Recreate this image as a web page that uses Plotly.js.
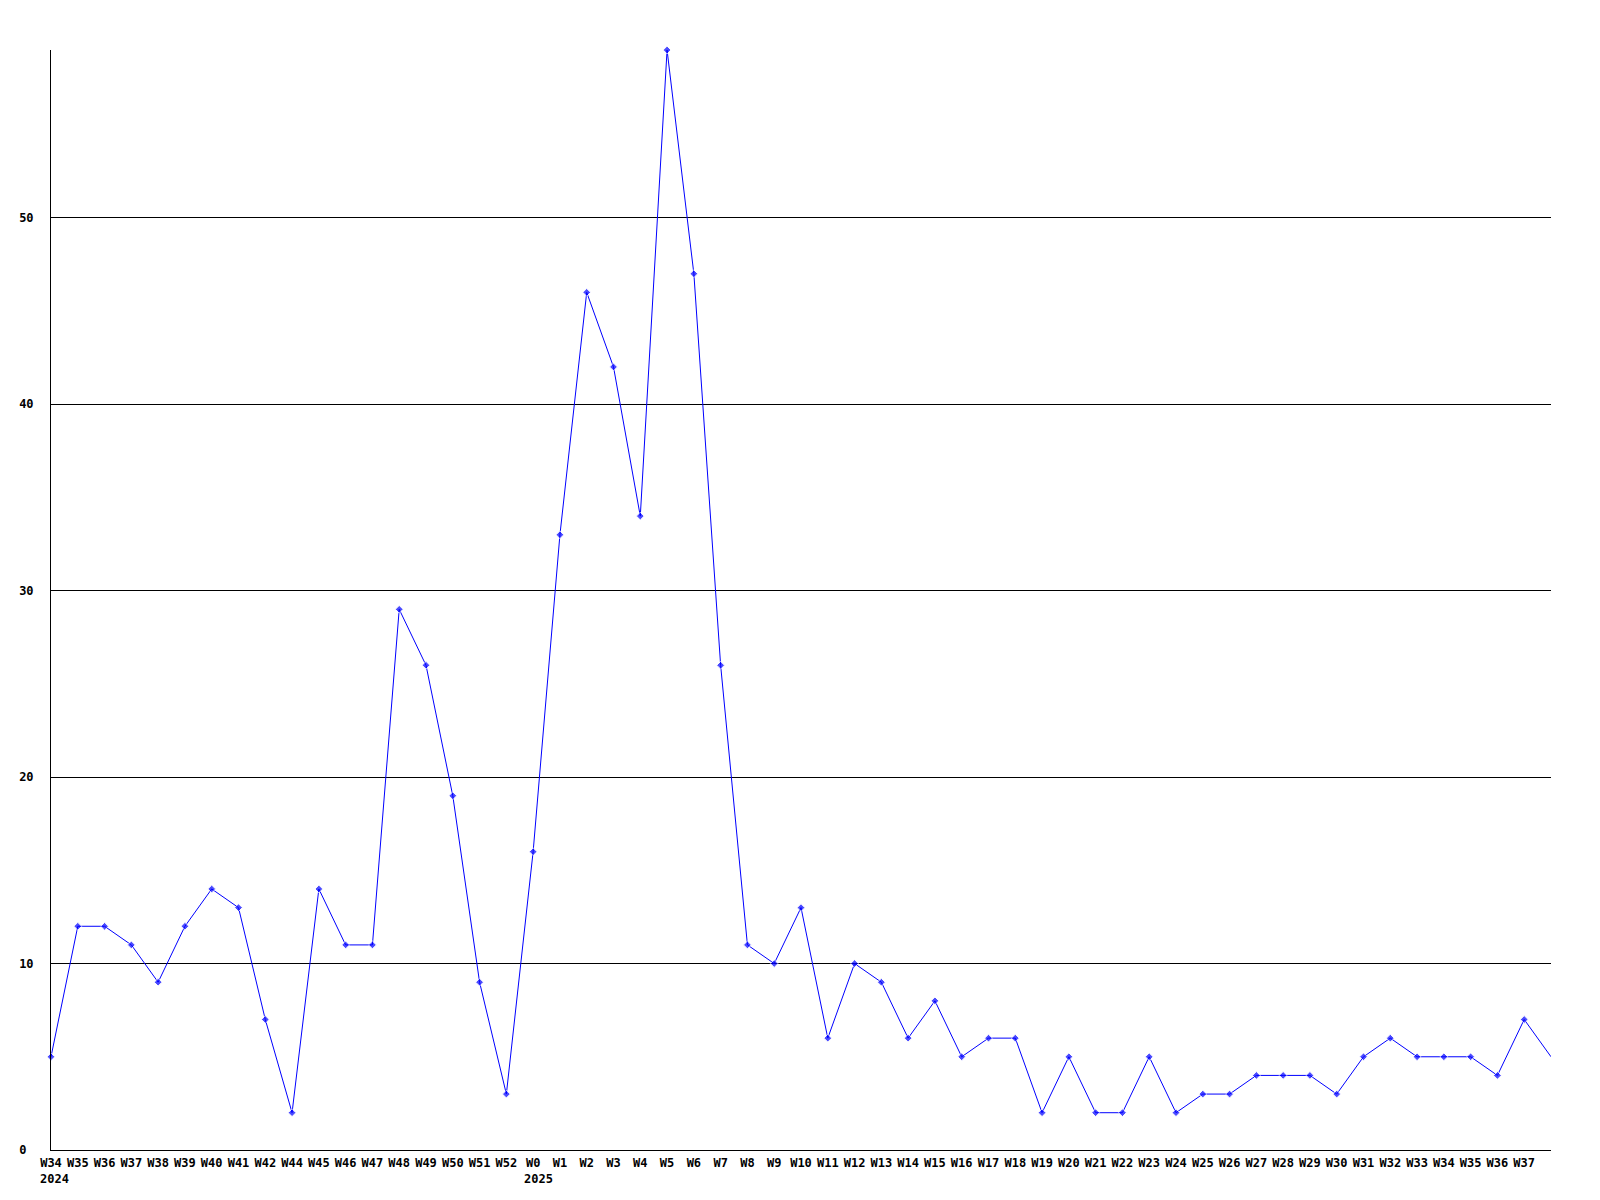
<!DOCTYPE html>
<html>
<head>
<meta charset="utf-8">
<script src="https://cdn.plot.ly/plotly-3.0.1.min.js"></script>
<style>body{margin:0;background:#fff;}#chart{width:1600px;height:1200px;}</style>
</head>
<body>
<div id="chart"></div>
<script>
const weeks = ["W34","W35","W36","W37","W38","W39","W40","W41","W42","W44","W45","W46","W47","W48","W49","W50","W51","W52",
  "W0","W1","W2","W3","W4","W5","W6","W7","W8","W9","W10","W11","W12","W13","W14","W15","W16","W17","W18","W19","W20",
  "W21","W22","W23","W24","W25","W26","W27","W28","W29","W30","W31","W32","W33","W34","W35","W36","W37",""];
const counts = [5,12,12,11,9,12,14,13,7,2,14,11,11,29,26,19,9,3,
  16,33,46,42,34,59,47,26,11,10,13,6,10,9,6,8,5,6,6,2,5,
  2,2,5,2,3,3,4,4,4,3,5,6,5,5,5,4,7,5];
const years = [{label:"2024", at:0}, {label:"2025", at:18}];
const yTicks = [0,10,20,30,40,50];

const xIdx = weeks.map((w,i)=>i);
const markerSizes = weeks.map(w => w === "" ? 0 : 6);
const font = {family:"DejaVu Sans Mono, Liberation Mono, monospace", size:12, color:"#000"};

const trace = {
  x: xIdx, y: counts, type:"scatter", mode:"lines+markers",
  line:{color:"#0000ff", width:1},
  marker:{color:"#0000ff", size:markerSizes, symbol:"diamond"},
  hoverinfo:"skip", cliponaxis:false
};

const layout = {
  width:1600, height:1200,
  margin:{l:51, r:49, t:50, b:50},
  paper_bgcolor:"#fff", plot_bgcolor:"#fff",
  showlegend:false,
  font: font,
  xaxis:{
    range:[0, weeks.length-1],
    tickvals: xIdx.filter(i=>weeks[i]!==""),
    ticktext: weeks.filter(w=>w!=="").map(w=>"<b>"+w+"</b>"),
    tickangle:0,
    showgrid:false, zeroline:false,
    showline:true, linecolor:"#000", linewidth:1,
    ticks:"outside", ticklen:2, tickcolor:"rgba(0,0,0,0)",
    tickfont:font, automargin:false
  },
  yaxis:{
    range:[0, 59],
    tickvals: yTicks,
    ticktext: yTicks.map(v => "<b>"+v+(v<10?"\u00a0":"")+"</b>"),
    showgrid:true, gridcolor:"#000", gridwidth:1,
    zeroline:false,
    showline:true, linecolor:"#000", linewidth:1,
    ticks:"outside", ticklen:14, tickcolor:"rgba(0,0,0,0)",
    tickfont:font, automargin:false
  },
  annotations: years.map(y => ({
    x: y.at, y: 0, xref:"x", yref:"y",
    text:"<b>"+y.label+"</b>", showarrow:false,
    xanchor:"left", yanchor:"top",
    xshift: y.at===0 ? -13 : -11, yshift:-20,
    font: font
  }))
};

Plotly.newPlot("chart", [trace], layout, {staticPlot:true});
</script>
</body>
</html>
